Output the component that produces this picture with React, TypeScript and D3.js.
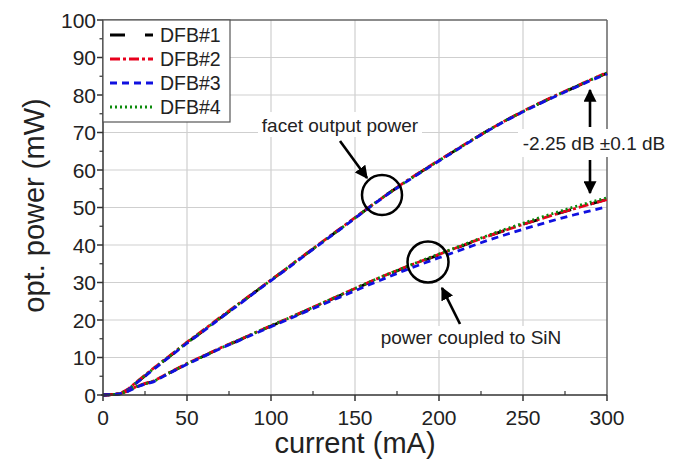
import React from "react";
import * as d3 from "d3";

const current = [0, 5, 10, 15, 20, 25, 30, 40, 50, 60, 70, 80, 90, 100, 110, 120, 130, 140, 150, 160, 170, 180, 190, 200, 210, 220, 230, 240, 250, 260, 270, 280, 290, 300];

const facet1 = [0.0, 0.1, 0.3, 1.5, 3.3, 5.1, 6.9, 10.4, 13.9, 17.2, 20.6, 23.9, 27.3, 30.6, 33.9, 37.3, 40.6, 43.9, 47.2, 50.6, 53.8, 56.8, 59.7, 62.5, 65.3, 68.1, 70.8, 73.3, 75.6, 77.8, 79.9, 81.9, 83.9, 85.8];
const facet2 = [0.0, 0.1, 0.3, 1.6, 3.5, 5.3, 7.1, 10.6, 14.1, 17.4, 20.8, 24.1, 27.4, 30.7, 34.0, 37.4, 40.7, 44.0, 47.3, 50.6, 53.8, 56.9, 59.8, 62.6, 65.4, 68.1, 70.8, 73.3, 75.7, 77.9, 80.0, 82.0, 84.0, 86.0];
const facet3 = [0.0, 0.1, 0.3, 1.4, 3.2, 5.0, 6.8, 10.3, 13.8, 17.1, 20.5, 23.8, 27.2, 30.5, 33.8, 37.2, 40.5, 43.8, 47.1, 50.5, 53.7, 56.7, 59.6, 62.4, 65.2, 68.0, 70.7, 73.2, 75.5, 77.7, 79.8, 81.8, 83.8, 85.6];
const facet4 = [0.0, 0.1, 0.3, 1.5, 3.4, 5.2, 7.0, 10.5, 14.0, 17.3, 20.7, 24.0, 27.3, 30.6, 34.0, 37.3, 40.6, 43.9, 47.2, 50.6, 53.8, 56.8, 59.7, 62.5, 65.3, 68.1, 70.8, 73.3, 75.6, 77.8, 79.9, 82.0, 84.0, 85.9];

const sin1 = [0.0, 0.1, 0.3, 1.1, 2.2, 3.0, 3.6, 6.0, 8.3, 10.4, 12.5, 14.4, 16.4, 18.4, 20.3, 22.3, 24.3, 26.3, 28.3, 30.3, 32.2, 34.0, 35.7, 37.4, 39.1, 40.8, 42.5, 44.0, 45.5, 46.9, 48.3, 49.6, 50.9, 52.2];
const sin2 = [0.0, 0.1, 0.3, 1.1, 2.3, 3.1, 3.7, 6.1, 8.4, 10.5, 12.6, 14.5, 16.5, 18.5, 20.4, 22.4, 24.4, 26.4, 28.4, 30.4, 32.3, 34.1, 35.8, 37.5, 39.2, 40.9, 42.5, 44.0, 45.5, 46.9, 48.3, 49.6, 50.9, 52.1];
const sin3 = [0.0, 0.1, 0.3, 1.0, 2.1, 2.9, 3.5, 5.9, 8.2, 10.3, 12.4, 14.3, 16.3, 18.2, 20.1, 22.1, 24.0, 25.9, 27.8, 29.7, 31.5, 33.3, 35.0, 36.6, 38.2, 39.8, 41.4, 42.8, 44.2, 45.5, 46.8, 48.0, 49.1, 50.2];
const sin4 = [0.0, 0.1, 0.3, 1.1, 2.2, 3.0, 3.6, 6.0, 8.3, 10.4, 12.5, 14.5, 16.5, 18.5, 20.4, 22.4, 24.4, 26.4, 28.4, 30.4, 32.3, 34.1, 35.9, 37.6, 39.3, 41.0, 42.7, 44.3, 45.8, 47.3, 48.7, 50.1, 51.4, 52.6];

const seriesNames = ["DFB#1", "DFB#2", "DFB#3", "DFB#4"];
const seriesColors = ["#000000", "#e8001c", "#1010e0", "#0a8a0a"];
const seriesDash = ["15,20", "10,3,3,3", "7,5", "2,3"];
const facetSeries = [facet1, facet2, facet3, facet4];
const sinSeries = [sin1, sin2, sin3, sin4];

const xTicks = [0, 50, 100, 150, 200, 250, 300];
const yTicks = [0, 10, 20, 30, 40, 50, 60, 70, 80, 90, 100];

const W = 679, H = 468;
const L = 103, R = 607, T = 20, B = 395;
const FONT = "'Liberation Sans', Arial, Helvetica, sans-serif";

export default function App() {
  const x = d3.scaleLinear().domain([0, 300]).range([L, R]);
  const y = d3.scaleLinear().domain([0, 100]).range([B, T]);
  const line = d3.line<number>().x((_, i) => x(current[i])).y((v) => y(v));

  const xMinor = d3.range(25, 300, 50);
  const yMinor = d3.range(5, 100, 10);

  const drawOrder = [0, 1, 3, 2];

  return (
    <svg width={W} height={H} style={{ position: "absolute", left: 0, top: 0, background: "#fff" }} fontFamily={FONT}>
      <defs>
        <marker id="ah" viewBox="0 0 10 10" refX="9" refY="5" markerWidth="5" markerHeight="5" orient="auto-start-reverse" markerUnits="strokeWidth">
          <path d="M0,0 L10,5 L0,10 z" fill="#000" />
        </marker>
      </defs>
      <rect x={0} y={0} width={W} height={H} fill="#fff" />
      {/* grid */}
      {xTicks.slice(1, -1).map((t) => (
        <line key={"gx" + t} x1={x(t)} x2={x(t)} y1={T} y2={B} stroke="#cfcfcf" strokeWidth={1.2} />
      ))}
      {yTicks.slice(1, -1).map((t) => (
        <line key={"gy" + t} x1={L} x2={R} y1={y(t)} y2={y(t)} stroke="#cfcfcf" strokeWidth={1.2} />
      ))}
      {/* frame */}
      <line x1={L} x2={R} y1={T} y2={T} stroke="#666" strokeWidth={1.5} />
      <line x1={R} x2={R} y1={T} y2={B} stroke="#666" strokeWidth={1.5} />
      {/* curves */}
      {drawOrder.map((i) => (
        <path key={"f" + i} d={line(facetSeries[i]) || ""} fill="none" stroke={seriesColors[i]} strokeWidth={2.8} strokeDasharray={seriesDash[i]} />
      ))}
      {drawOrder.map((i) => (
        <path key={"s" + i} d={line(sinSeries[i]) || ""} fill="none" stroke={seriesColors[i]} strokeWidth={2.8} strokeDasharray={seriesDash[i]} />
      ))}
      {/* axes */}
      <line x1={L - 2} x2={R} y1={B} y2={B} stroke="#333" strokeWidth={1.5} />
      <line x1={L} x2={L} y1={T} y2={B} stroke="#333" strokeWidth={1.5} />
      {xTicks.map((t) => (
        <g key={"xt" + t}>
          <line x1={x(t)} x2={x(t)} y1={B} y2={B + 6} stroke="#333" strokeWidth={1.5} />
          <text x={x(t)} y={B + 30} fontSize={21} textAnchor="middle" fill="#222">{t}</text>
        </g>
      ))}
      {xMinor.map((t) => (
        <line key={"xm" + t} x1={x(t)} x2={x(t)} y1={B} y2={B - 4} stroke="#333" strokeWidth={1.2} />
      ))}
      {yTicks.map((t) => (
        <g key={"yt" + t}>
          <line x1={L} x2={L - 6} y1={y(t)} y2={y(t)} stroke="#333" strokeWidth={1.5} />
          <text x={L - 7} y={y(t) + 7.5} fontSize={21} textAnchor="end" fill="#222">{t}</text>
        </g>
      ))}
      {yMinor.map((t) => (
        <line key={"ym" + t} x1={L} x2={L - 3.5} y1={y(t)} y2={y(t)} stroke="#333" strokeWidth={1.2} />
      ))}
      {/* axis titles */}
      <text x={(L + R) / 2} y={453} fontSize={29} textAnchor="middle" fill="#222">current (mA)</text>
      <text transform={`translate(44,${(T + B) / 2 - 2}) rotate(-90)`} fontSize={29} textAnchor="middle" fill="#222">opt. power (mW)</text>
      {/* legend */}
      <rect x={L} y={T} width={127} height={102} fill="#fff" stroke="#555" strokeWidth={1.2} />
      {seriesNames.map((n, i) => {
        const ly = 35 + i * 24;
        return (
          <g key={"lg" + n}>
            <line x1={110} x2={153} y1={ly} y2={ly} stroke={seriesColors[i]} strokeWidth={2.8} strokeDasharray={seriesDash[i]} />
            <text x={160} y={ly + 7} fontSize={19.5} fill="#222">{n}</text>
          </g>
        );
      })}
      {/* facet annotation */}
      <rect x={258} y={112} width={164} height={25} fill="#fff" />
      <text x={340} y={132} fontSize={19} textAnchor="middle" fill="#222">facet output power</text>
      <line x1={340} y1={141} x2={367} y2={178} stroke="#000" strokeWidth={2.6} markerEnd="url(#ah)" />
      <circle cx={382} cy={195} r={20} fill="none" stroke="#000" strokeWidth={2.5} />
      {/* SiN annotation */}
      <circle cx={428} cy={262} r={20.5} fill="none" stroke="#000" strokeWidth={2.5} />
      <line x1={460} y1={324} x2={442} y2={288} stroke="#000" strokeWidth={2.6} markerEnd="url(#ah)" />
      <rect x={376} y={326} width={190} height={24} fill="#fff" />
      <text x={471} y={344} fontSize={19} textAnchor="middle" fill="#222">power coupled to SiN</text>
      {/* dB annotation */}
      <rect x={518} y={129} width={152} height={28} fill="#fff" />
      <text x={594} y={150} fontSize={19} textAnchor="middle" fill="#222">-2.25 dB ±0.1 dB</text>
      <line x1={590} y1={127} x2={590} y2={90} stroke="#000" strokeWidth={2.6} markerEnd="url(#ah)" />
      <line x1={590} y1={160} x2={590} y2={193} stroke="#000" strokeWidth={2.6} markerEnd="url(#ah)" />
    </svg>
  );
}
